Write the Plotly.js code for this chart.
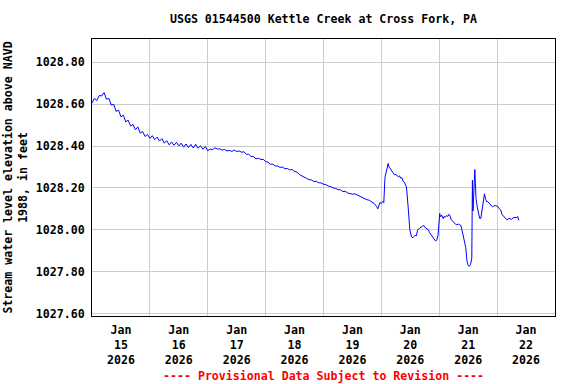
<!DOCTYPE html>
<html>
<head>
<meta charset="utf-8">
<script src="https://cdn.plot.ly/plotly-3.0.1.min.js"></script>
<style>html,body{margin:0;padding:0;background:#fff;}#chart{width:576px;height:384px;}</style>
</head>
<body>
<div id="chart"></div>
<script>
// Hours since 2026-01-15 00:00
const hours = [
 0,1,2,3,4,5,6,7,8,9,10,11,12,13,14,15,16,17,18,19,20,21,22,23,24,25,26,27,28,29,
 30,31,32,33,34,35,36,37,38,39,40,41,42,43,44,45,46,47,48,49,50,51,52,53,54,55,56,57,58,59,
 60,61,62,63,64,65,66,67,68,69,70,71,72,73,74,75,76,77,78,79,80,81,82,83,84,85,86,87,88,89,
 90,91,92,93,94,95,96,97,98,99,100,101,102,103,104,105,106,107,108,109,110,111,112,113,114,115,116,117,118,
 118.5,119.4,120,120.6,121,121.5,122.2,122.8,123.1,123.5,124,124.5,125,125.5,126,127,127.5,128,128.5,129,129.5,130,130.4,
 131.1,131.8,132.5,133.1,134,134.5,135,136,137,137.5,138,139,139.5,140,141,141.5,142,142.5,143,143.5,
 144.2,144.5,145,145.6,146,146.5,147,147.5,148,148.5,149,150,151,152,153,
 153.5,154,154.5,155,155.5,156,156.5,157,157.5,157.75,158,158.25,158.75,159,159.25,159.75,160.25,160.75,161.25,161.75,
 162.25,162.75,163.25,163.75,164,165,166,167,168,169,169.5,170,171,172,173,174,175,176,176.5,177
];
// Stream water level elevation, ft (NAVD 1988)
const stage = [
 1028.606,1028.628,1028.618,1028.642,1028.640,1028.656,1028.624,1028.628,1028.596,1028.600,
 1028.566,1028.572,1028.540,1028.548,1028.516,1028.524,1028.496,1028.504,1028.478,1028.492,
 1028.462,1028.470,1028.446,1028.456,1028.437,1028.450,1028.431,1028.443,1028.424,1028.436,
 1028.414,1028.426,1028.406,1028.420,1028.404,1028.418,1028.401,1028.414,1028.395,1028.410,
 1028.393,1028.408,1028.391,1028.409,1028.390,1028.402,1028.385,1028.398,1028.378,1028.386,
 1028.383,1028.392,1028.386,1028.387,1028.381,1028.384,1028.377,1028.379,1028.375,1028.381,
 1028.374,1028.377,1028.371,1028.373,1028.361,1028.361,1028.350,1028.350,1028.339,1028.342,
 1028.336,1028.337,1028.326,1028.323,1028.313,1028.314,1028.305,1028.305,1028.298,1028.300,
 1028.292,1028.293,1028.286,1028.288,1028.279,1028.276,1028.264,1028.258,1028.248,1028.246,
 1028.240,1028.238,1028.231,1028.232,1028.225,1028.224,1028.218,1028.216,1028.209,1028.207,
 1028.200,1028.198,1028.192,1028.191,1028.183,1028.184,1028.176,1028.174,1028.170,1028.172,
 1028.166,1028.163,1028.155,1028.152,1028.144,1028.141,1028.133,1028.126,1028.112,
 1028.100,1028.130,1028.126,1028.136,1028.130,1028.250,1028.282,1028.317,1028.302,1028.296,
 1028.285,1028.276,1028.272,1028.262,1028.265,1028.254,1028.258,1028.247,1028.249,1028.232,
 1028.228,1028.214,1028.205,
 1028.110,1028.000,1027.966,1027.962,1027.974,1027.971,1027.998,1028.010,1028.016,1028.022,
 1028.012,1028.002,1028.000,1027.986,1027.968,1027.960,1027.956,1027.946,1027.952,1027.974,
 1028.078,1028.062,1028.070,1028.054,1028.064,1028.060,1028.068,1028.064,1028.074,1028.066,
 1028.048,1028.038,1028.024,1028.027,1028.020,
 1027.995,1027.970,1027.940,1027.915,1027.850,1027.830,1027.826,1027.835,1027.865,1028.237,
 1028.090,1028.200,1028.288,1028.220,1028.150,1028.110,1028.075,1028.055,1028.055,1028.090,
 1028.140,1028.172,1028.145,1028.133,1028.135,1028.124,1028.110,1028.116,1028.114,1028.100,
 1028.094,1028.074,1028.058,1028.048,1028.054,1028.050,1028.060,1028.058,1028.064,1028.045
];
const yTicks = [1027.6, 1027.8, 1028.0, 1028.2, 1028.4, 1028.6, 1028.8];

const start = Date.UTC(2026, 0, 15);
const times = hours.map(h => new Date(start + h * 3600000).toISOString().replace('T', ' ').replace('Z', ''));

const F = 'DejaVu Sans Mono, monospace';
const trace = {
  x: times, y: stage, type: 'scatter', mode: 'lines',
  line: {color: '#0000ff', width: 1}, hoverinfo: 'skip'
};
const layout = {
  width: 576, height: 384,
  margin: {l: 92, r: 21, t: 39, b: 68},
  paper_bgcolor: '#ffffff', plot_bgcolor: '#ffffff',
  showlegend: false,
  font: {family: F, size: 11.6, color: '#000000', weight: 'bold'},
  title: {text: 'USGS 01544500 Kettle Creek at Cross Fork, PA', x: 0.5, xref: 'paper',
          y: 1 - 19 / 384, yref: 'container', yanchor: 'middle',
          font: {family: F, size: 11.6, color: '#000', weight: 'bold'}},
  xaxis: {
    type: 'date', range: ['2026-01-15 00:00', '2026-01-23 00:00'],
    tickmode: 'linear', tick0: '2026-01-15', dtick: 86400000,
    ticklabelmode: 'period', tickformat: '%b<br>%d<br>%Y',
    ticklabelstandoff: 3,
    showgrid: true, gridcolor: '#cccccc', gridwidth: 1,
    showline: true, mirror: true, linecolor: '#000', linewidth: 1,
    ticks: '', zeroline: false, fixedrange: true,
    tickfont: {family: F, size: 11.6, color: '#000', weight: 'bold'}
  },
  yaxis: {
    range: [1027.588, 1028.912],
    tickmode: 'array', tickvals: yTicks, ticktext: yTicks.map(v => v.toFixed(2)),
    ticklabelstandoff: 4,
    showgrid: true, gridcolor: '#cccccc', gridwidth: 1,
    showline: true, mirror: true, linecolor: '#000', linewidth: 1,
    ticks: '', ticklen: 0, zeroline: false, fixedrange: true,
    tickfont: {family: F, size: 11.6, color: '#000', weight: 'bold'},
    title: {text: 'Stream water level elevation above NAVD<br>1988, in feet',
            standoff: 5,
            font: {family: F, size: 11.6, color: '#000', weight: 'bold'}}
  },
  annotations: [{
    text: '---- Provisional Data Subject to Revision ----',
    xref: 'paper', yref: 'paper', x: 0.5, y: (316 - 376) / 277,
    xanchor: 'center', yanchor: 'middle', showarrow: false,
    font: {family: F, size: 11.6, color: '#ff0000', weight: 'bold'}
  }]
};
Plotly.newPlot('chart', [trace], layout, {staticPlot: true, displayModeBar: false});
</script>
</body>
</html>
